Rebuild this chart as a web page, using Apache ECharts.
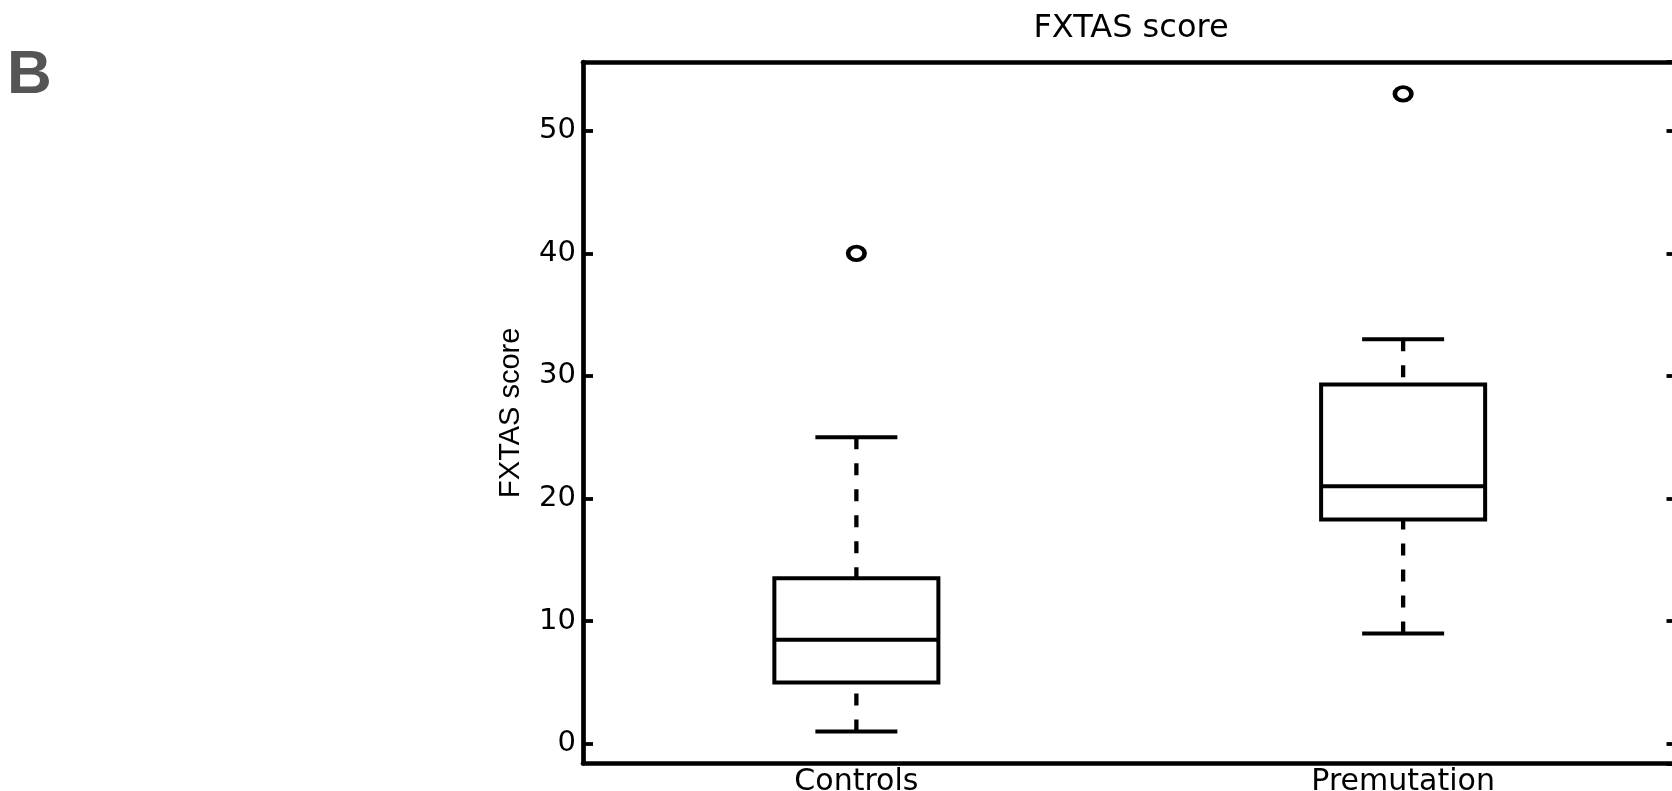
<!DOCTYPE html>
<html>
<head>
<meta charset="utf-8">
<script src="https://cdn.jsdelivr.net/npm/echarts@6/dist/echarts.min.js"></script>
<style>
html, body { margin: 0; padding: 0; background: #fff; }
#main { width: 1672px; height: 791px; }
</style>
</head>
<body>
<div id="main"></div>
<script>
// ---- data ----
const categories   = ['Controls', 'Premutation'];
const whiskerLow   = [1, 9];
const quartile1    = [5, 18.3];
const medians      = [8.5, 21];
const quartile3    = [13.5, 29.3];
const whiskerHigh  = [25, 33];
const outlierGroup = [0, 1];
const outlierValue = [40, 53];
const yMin = -1.6, yMax = 55.6;
const panelLetter = 'B';
const chartTitle = 'FXTAS score';
const yTitle = 'FXTAS score';

const FONT = '"Liberation Sans", Arial, Helvetica, sans-serif';
const WIDE = '"DejaVu Sans", "Liberation Sans", Arial, sans-serif';
const boxData = categories.map((c, i) => [i, whiskerLow[i], quartile1[i], medians[i], quartile3[i], whiskerHigh[i]]);
const outlierData = outlierGroup.map((g, i) => [g, outlierValue[i]]);

const chart = echarts.init(document.getElementById('main'), null, { renderer: 'canvas' });

const black = '#000';
const option = {
  animation: false,
  backgroundColor: '#fff',
  graphic: [
    { type: 'text', x: 7, y: 76, style: { text: panelLetter, font: 'bold 62px ' + FONT, fill: '#555555', align: 'left', verticalAlign: 'middle' } },
    { type: 'text', x: 1131, y: 29, style: { text: chartTitle, font: '32px ' + WIDE, fill: '#000', align: 'center', verticalAlign: 'middle' } }
  ],
  grid: { left: 583, top: 62, right: -4.5, bottom: 27.5, containLabel: false, outerBoundsMode: 'none' },
  xAxis: [
    {
      type: 'category', data: categories, position: 'bottom', boundaryGap: true,
      axisLine: { show: true, onZero: false, lineStyle: { color: black, width: 4.7 } },
      axisTick: { show: false },
      axisLabel: { color: black, fontSize: 30, fontFamily: WIDE, margin: 4 },
      splitLine: { show: false }
    },
    {
      type: 'category', data: categories, position: 'top', boundaryGap: true,
      axisLine: { show: true, onZero: false, lineStyle: { color: black, width: 4.7 } },
      axisTick: { show: false }, axisLabel: { show: false }, splitLine: { show: false }
    }
  ],
  yAxis: [
    {
      type: 'value', min: yMin, max: yMax, position: 'left',
      name: yTitle, nameLocation: 'middle', nameRotate: 90, nameGap: 58,
      nameTextStyle: { color: black, fontSize: 29, fontFamily: FONT },
      axisLine: { show: true, lineStyle: { color: black, width: 4.7 } },
      axisTick: { show: true, inside: true, length: 10, lineStyle: { color: black, width: 3.8 } },
      axisLabel: {
        color: black, fontSize: 29, fontFamily: WIDE, margin: 7,
        showMinLabel: false, showMaxLabel: false,
        formatter: v => (Math.abs(v % 10) < 1e-9 ? String(v) : '')
      },
      splitLine: { show: false }
    },
    {
      type: 'value', min: yMin, max: yMax, position: 'right',
      axisLine: { show: true, lineStyle: { color: black, width: 4.7 } },
      axisTick: { show: true, inside: true, length: 10, lineStyle: { color: black, width: 3.8 } },
      axisLabel: { show: false }, splitLine: { show: false }
    }
  ],
  series: [
    {
      type: 'custom',
      xAxisIndex: 0, yAxisIndex: 0,
      data: boxData,
      encode: { x: 0, y: [1, 2, 3, 4, 5] },
      renderItem: function (params, api) {
        const i = api.value(0);
        const pLow = api.coord([i, api.value(1)]);
        const pQ1 = api.coord([i, api.value(2)]);
        const pMed = api.coord([i, api.value(3)]);
        const pQ3 = api.coord([i, api.value(4)]);
        const pHigh = api.coord([i, api.value(5)]);
        const band = api.size([1, 0])[0];
        const bw = band * 0.3, cw = band * 0.15;
        const x = pMed[0];
        const solid = { stroke: black, lineWidth: 4, fill: null };
        const dashed = { stroke: black, lineWidth: 4.3, lineDash: [12, 14], fill: null };
        return {
          type: 'group',
          children: [
            { type: 'line', shape: { x1: x, y1: pHigh[1], x2: x, y2: pQ3[1] }, style: dashed },
            { type: 'line', shape: { x1: x, y1: pLow[1], x2: x, y2: pQ1[1] }, style: dashed },
            { type: 'line', shape: { x1: x - cw / 2, y1: pHigh[1], x2: x + cw / 2, y2: pHigh[1] }, style: solid },
            { type: 'line', shape: { x1: x - cw / 2, y1: pLow[1], x2: x + cw / 2, y2: pLow[1] }, style: solid },
            { type: 'rect', shape: { x: x - bw / 2, y: pQ3[1], width: bw, height: pQ1[1] - pQ3[1] }, style: { stroke: black, lineWidth: 4, fill: 'rgba(0,0,0,0)' } },
            { type: 'line', shape: { x1: x - bw / 2, y1: pMed[1], x2: x + bw / 2, y2: pMed[1] }, style: solid }
          ]
        };
      }
    },
    {
      type: 'scatter',
      xAxisIndex: 0, yAxisIndex: 0,
      data: outlierData,
      symbol: 'circle',
      symbolSize: [16.5, 13.5],
      itemStyle: { color: '#fff', borderColor: black, borderWidth: 4.2, opacity: 1 }
    }
  ]
};
chart.setOption(option);
</script>
</body>
</html>
